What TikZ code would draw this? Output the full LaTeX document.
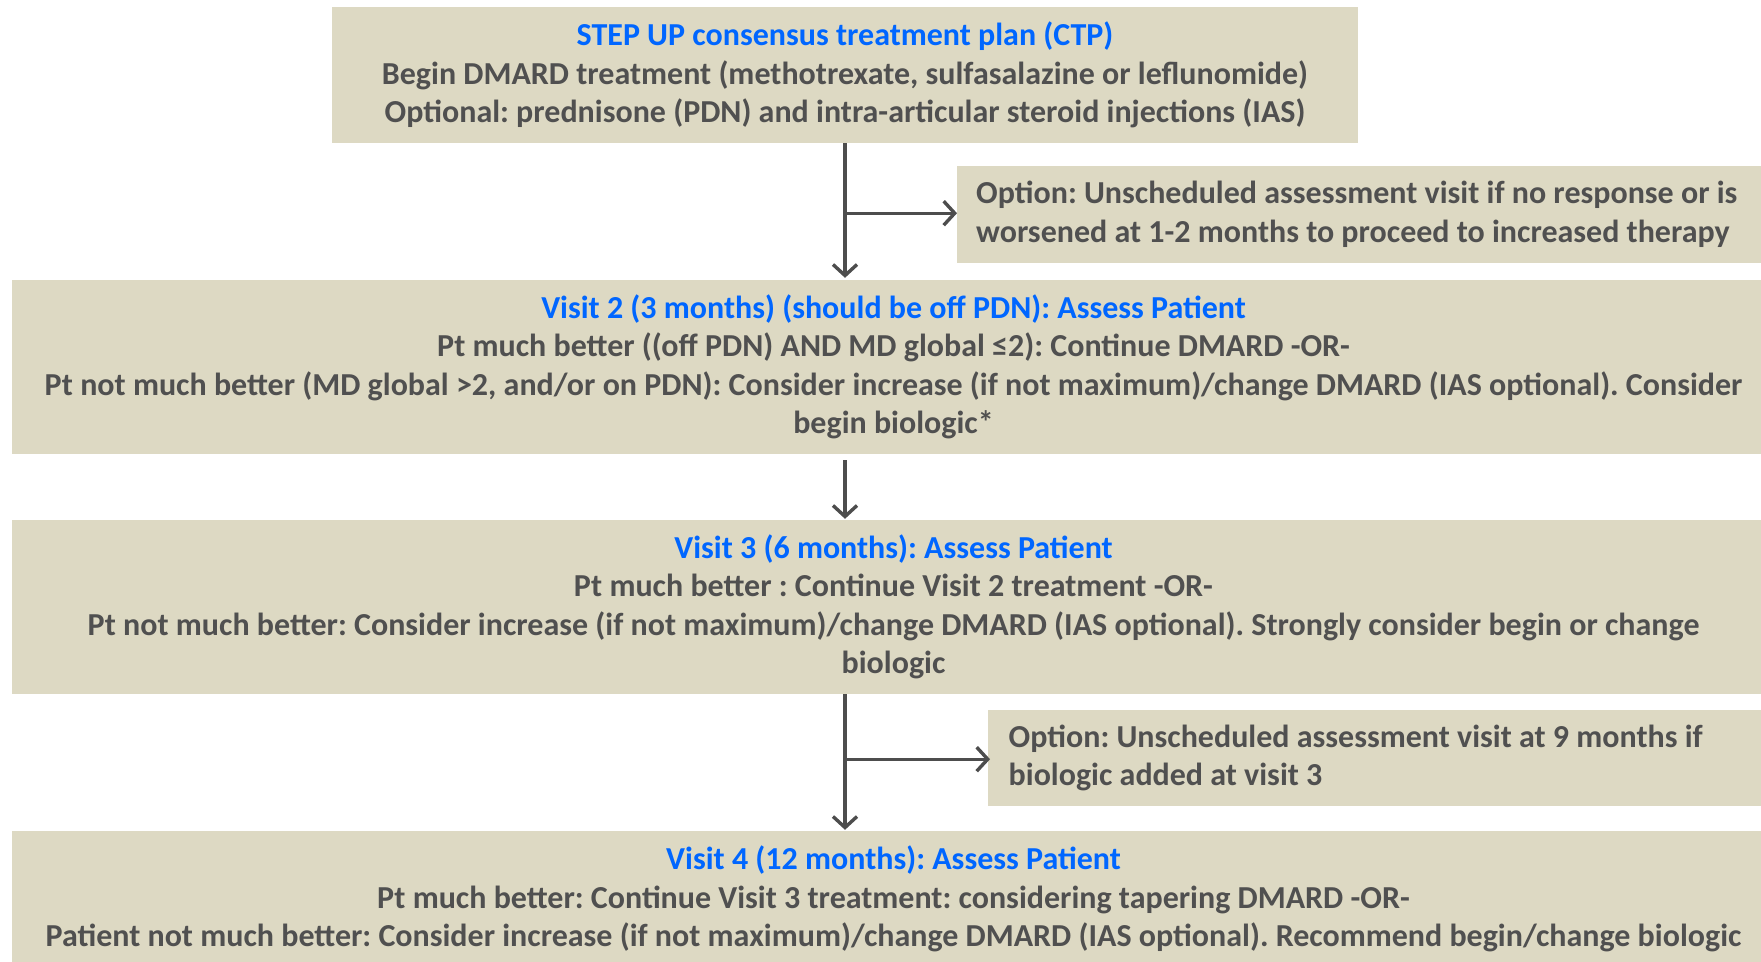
\documentclass[tikz,border=0pt]{standalone}
\usepackage{fontspec}
\setmainfont{Carlito}
\usetikzlibrary{arrows.meta}
\definecolor{boxfill}{HTML}{DDD9C3}
\definecolor{txtgray}{HTML}{505050}
\definecolor{hblue}{HTML}{0066FF}
\definecolor{arrgray}{HTML}{4D4D4D}
\frenchspacing
\begin{document}
\begin{tikzpicture}[x=1pt,y=-1pt,
  box/.style={fill=boxfill, inner sep=0pt, text=txtgray, font=\fontsize{32}{38.5}\selectfont\bfseries\frenchspacing, align=center},
  optbox/.style={box, align=flush left, anchor=west},
  arr/.style={draw=arrgray, line width=3.4pt, -{Straight Barb[length=11pt,width=24pt,line width=3.4pt]}}]
\useasboundingbox (0,0) rectangle (1761,961);
\clip (0,0) rectangle (1761,961);
\node[box, minimum width=1026pt, minimum height=136pt] (ctp) at (845,75)
  {\textcolor{hblue}{STEP UP consensus treatment plan (CTP)}\\
   Begin DMARD treatment (methotrexate, sulfasalazine or leflunomide)\\
   Optional: prednisone (PDN) and intra-articular steroid injections (IAS)};
\node[optbox, inner xsep=19pt, text width=900pt, minimum height=97pt] (opt1) at (957,214.5)
  {Option: Unscheduled assessment visit if no response or is\\
   worsened at 1-2 months to proceed to increased therapy};
\node[box, minimum width=1763pt, minimum height=174pt] (v2) at (893.5,367)
  {\textcolor{hblue}{Visit 2 (3 months) (should be off PDN): Assess Patient}\\
   Pt much better ((off PDN) AND MD global ≤2): Continue DMARD -OR-\\
   Pt not much better (MD global >2, and/or on PDN): Consider increase (if not maximum)/change DMARD (IAS optional). Consider\\
   begin biologic*};
\node[box, minimum width=1763pt, minimum height=174pt] (v3) at (893.5,607)
  {\textcolor{hblue}{Visit 3 (6 months): Assess Patient}\\
   Pt much better : Continue Visit 2 treatment -OR-\\
   Pt not much better: Consider increase (if not maximum)/change DMARD (IAS optional). Strongly consider begin or change\\
   biologic};
\node[optbox, inner xsep=20.5pt, text width=900pt, minimum height=96pt] (opt2) at (988,758)
  {Option: Unscheduled assessment visit at 9 months if\\
   biologic added at visit 3};
\node[box, minimum width=1763pt, minimum height=136pt] (v4) at (893.5,899)
  {\textcolor{hblue}{Visit 4 (12 months): Assess Patient}\\
   Pt much better: Continue Visit 3 treatment: considering tapering DMARD -OR-\\
   Patient not much better: Consider increase (if not maximum)/change DMARD (IAS optional). Recommend begin/change biologic};
\path (ctp.south) ++(0,70) coordinate (b1);
\path (ctp.south |- v3.south) ++(0,65) coordinate (b2);
\draw[arr] (ctp.south) -- ([yshift=2pt]ctp.south |- v2.north);
\draw[arr] (b1) -- (b1 -| opt1.west);
\draw[arr] ([yshift=-6pt]ctp.south |- v2.south) -- ([yshift=1pt]ctp.south |- v3.north);
\draw[arr] (ctp.south |- v3.south) -- ([yshift=1pt]ctp.south |- v4.north);
\draw[arr] (b2) -- ([xshift=2pt]b2 -| opt2.west);
\end{tikzpicture}
\end{document}
